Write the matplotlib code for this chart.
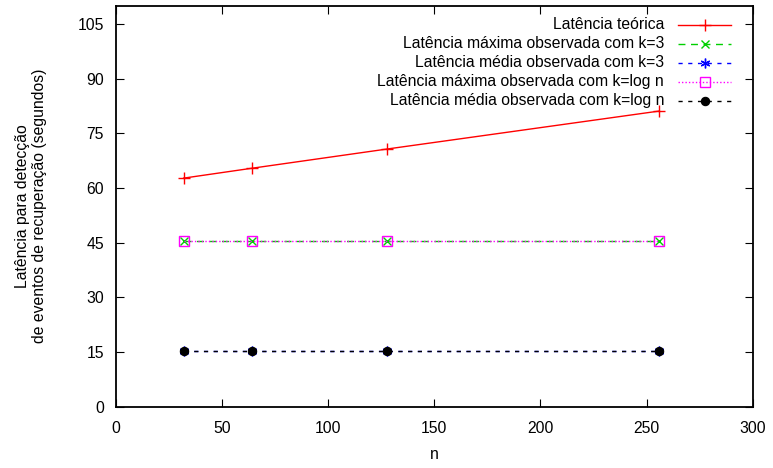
import matplotlib
matplotlib.use('Agg')
import matplotlib.pyplot as plt

plt.rcParams['font.family'] = ['Liberation Sans', 'DejaVu Sans']
plt.rcParams['font.size'] = 11.3

n_values = [32, 64, 128, 256]
lat_teorica = [62.7, 65.4, 70.7, 81.1]
lat_max_k3 = [45.4, 45.4, 45.4, 45.4]
lat_media_k3 = [15.2, 15.2, 15.2, 15.2]
lat_max_logn = [45.4, 45.4, 45.4, 45.4]
lat_media_logn = [15.2, 15.2, 15.2, 15.2]

labels = [
    "Latência teórica",
    "Latência máxima observada com k=3",
    "Latência média observada com k=3",
    "Latência máxima observada com k=log n",
    "Latência média observada com k=log n",
]

series = [lat_teorica, lat_max_k3, lat_media_k3, lat_max_logn, lat_media_logn]
styles = [
    dict(color='#ff0000', linestyle='-', marker='+', markersize=8, mew=1.0),
    dict(color='#00d000', linestyle=(0, (5, 4)), marker='x', markersize=6, mew=1.0),
    dict(color='#0000ff', linestyle=(0, (3, 4)), marker=(6, 2, 0), markersize=7, mew=1.0),
    dict(color='#ff00ff', linestyle=(0, (1, 1.5)), marker='s', markersize=7,
         mew=1.0, markerfacecolor='none'),
    dict(color='#000000', linestyle=(0, (3, 4)), marker='o', markersize=6, mew=0.8),
]

fig = plt.figure(figsize=(7.73, 4.68), dpi=100)
ax = fig.add_axes([115.7 / 773, 1 - 406.7 / 468, (752.7 - 115.7) / 773, (406.7 - 5.7) / 468])

for vals, st in zip(series, styles):
    ax.plot(n_values, vals, linewidth=1.0, **st)

# legend drawn by hand: right-justified text with the sample to its right
row_y0 = (406.7 - 24.5) / 401.0
row_step = 19.0 / 401.0
for i, (lab, st) in enumerate(zip(labels, styles)):
    y = row_y0 - i * row_step
    ax.text(0.861, y, lab, transform=ax.transAxes, ha='right', va='center')
    ax.plot([0.883, 0.966], [y, y], transform=ax.transAxes, clip_on=False,
            linewidth=1.0, **{k: v for k, v in st.items() if k != 'marker'})
    ax.plot([0.925], [y], transform=ax.transAxes, clip_on=False, linestyle='none',
            **{k: v for k, v in st.items() if k != 'linestyle'})

ax.set_xlim(0, 300)
ax.set_ylim(0, 110)
ax.set_xticks(range(0, 301, 50))
ax.set_yticks(range(0, 106, 15))
ax.tick_params(direction='in', length=6, width=0.8, top=True, right=True)
ax.tick_params(axis='x', pad=10.5)
ax.tick_params(axis='y', pad=8.4)
for sp in ax.spines.values():
    sp.set_linewidth(1.3)

ax.set_xlabel("n")
ax.xaxis.set_label_coords(0.5, -(447 - 406.7) / 401.0)
ax.set_ylabel("Latência para detecção\nde eventos de recuperação (segundos)")
ax.yaxis.set_label_coords(-(115.7 - 47) / 637.0, 0.5)

plt.savefig("out.png", dpi=100)
plt.close()
